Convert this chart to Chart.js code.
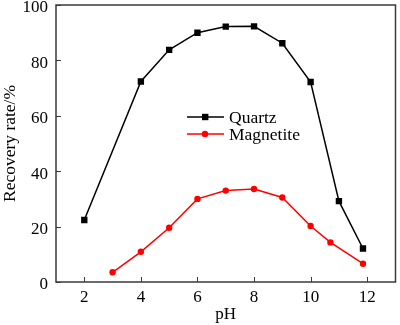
<!DOCTYPE html>
<html>
<head>
<meta charset="utf-8">
<script src="https://cdn.jsdelivr.net/npm/chart.js@4"></script>
<style>
    html, body { margin: 0; padding: 0; background: #fff; }
    #wrap { width: 400px; height: 325px; }
</style>
</head>
<body>
<div id="wrap"><canvas id="chart-recovery"></canvas></div>
<script>
// pH values and recovery rates (%) for each mineral
const phQuartz = [2, 4, 5, 6, 7, 8, 9, 10, 11, 11.85];
const quartzRecovery = [22.4, 72.4, 83.8, 90.0, 92.2, 92.3, 86.2, 72.2, 29.2, 12.1];
const phMagnetite = [3, 4, 5, 6, 7, 8, 9, 10, 10.7, 11.85];
const magnetiteRecovery = [3.5, 10.9, 19.6, 30.0, 33.0, 33.6, 30.5, 20.2, 14.3, 6.6];

const seriesNames = ['Quartz', 'Magnetite'];
const xTicks = [2, 4, 6, 8, 10, 12];
const yTicks = [0, 20, 40, 60, 80, 100];

const FONT = '"Liberation Serif", "Times New Roman", serif';
const AXIS_COLOR = '#3a3a3a';

const toPoints = (xs, ys) => xs.map((x, i) => ({ x: x, y: ys[i] }));

// Frame, inward tick marks and the in-plot legend
const framePlugin = {
    id: 'frame',
    afterDraw(chart) {
        const ctx = chart.ctx;
        const area = chart.chartArea;
        const xs = chart.scales.x;
        const ys = chart.scales.y;

        ctx.save();
        ctx.strokeStyle = AXIS_COLOR;
        ctx.lineWidth = 1.5;
        ctx.strokeRect(area.left, area.top, area.right - area.left, area.bottom - area.top);

        ctx.beginPath();
        xTicks.forEach(v => {
            const px = Math.round(xs.getPixelForValue(v)) + 0.5;
            ctx.moveTo(px, area.bottom);
            ctx.lineTo(px, area.bottom - 5);
        });
        yTicks.forEach(v => {
            const py = Math.round(ys.getPixelForValue(v)) + 0.5;
            ctx.moveTo(area.left, py);
            ctx.lineTo(area.left + 5, py);
        });
        ctx.lineWidth = 1;
        ctx.stroke();

        // Legend
        const rows = [
            { y: 117, ds: chart.data.datasets[0] },
            { y: 134, ds: chart.data.datasets[1] }
        ];
        rows.forEach(row => {
            ctx.strokeStyle = row.ds.borderColor;
            ctx.lineWidth = 1.5;
            ctx.beginPath();
            ctx.moveTo(187, row.y);
            ctx.lineTo(224, row.y);
            ctx.stroke();
            ctx.fillStyle = row.ds.backgroundColor;
            if (row.ds.pointStyle === 'rect') {
                ctx.fillRect(202, row.y - 3.2, 6.4, 6.4);
            } else {
                ctx.beginPath();
                ctx.arc(205, row.y, 3.2, 0, Math.PI * 2);
                ctx.fill();
            }
            ctx.fillStyle = '#000';
            ctx.font = '17.5px ' + FONT;
            ctx.textBaseline = 'middle';
            ctx.textAlign = 'left';
            ctx.fillText(row.ds.label, 229, row.y + 1);
        });
        ctx.restore();
    }
};

new Chart(document.getElementById('chart-recovery'), {
    type: 'line',
    data: {
        datasets: [
            {
                label: seriesNames[0],
                data: toPoints(phQuartz, quartzRecovery),
                borderColor: '#000000',
                backgroundColor: '#000000',
                borderWidth: 1.5,
                pointStyle: 'rect',
                pointRadius: 4.5,
                pointBorderWidth: 0,
                tension: 0
            },
            {
                label: seriesNames[1],
                data: toPoints(phMagnetite, magnetiteRecovery),
                borderColor: '#ff0000',
                backgroundColor: '#ff0000',
                borderWidth: 1.5,
                pointStyle: 'circle',
                pointRadius: 3.2,
                pointBorderWidth: 0,
                tension: 0
            }
        ]
    },
    options: {
        responsive: true,
        maintainAspectRatio: false,
        animation: false,
        layout: { padding: { left: 0, right: 1, top: 5, bottom: 0 } },
        plugins: {
            legend: { display: false },
            tooltip: { enabled: false }
        },
        scales: {
            x: {
                type: 'linear',
                min: 1,
                max: 13,
                afterBuildTicks: scale => { scale.ticks = xTicks.map(v => ({ value: v })); },
                afterFit: scale => {
                    scale.height = 43;
                    scale.paddingLeft = 0;
                    scale.paddingRight = 0;
                },
                grid: { display: false, drawTicks: false },
                border: { display: false },
                ticks: {
                    color: '#000',
                    padding: 5,
                    maxRotation: 0,
                    font: { family: FONT, size: 17 }
                },
                title: {
                    display: true,
                    text: 'pH',
                    color: '#000',
                    padding: { top: 0, bottom: 0 },
                    font: { family: FONT, size: 17 }
                }
            },
            y: {
                min: 0,
                max: 100,
                afterBuildTicks: scale => { scale.ticks = yTicks.map(v => ({ value: v })); },
                afterFit: scale => {
                    scale.width = 56;
                    scale.paddingTop = 0;
                    scale.paddingBottom = 0;
                },
                grid: { display: false, drawTicks: false },
                border: { display: false },
                ticks: {
                    color: '#000',
                    padding: 8,
                    labelOffset: 3,
                    font: { family: FONT, size: 17 }
                },
                title: {
                    display: true,
                    text: 'Recovery rate/%',
                    color: '#000',
                    padding: { top: 0, bottom: 2 },
                    font: { family: FONT, size: 17.5 }
                }
            }
        }
    },
    plugins: [framePlugin]
});
</script>
</body>
</html>
